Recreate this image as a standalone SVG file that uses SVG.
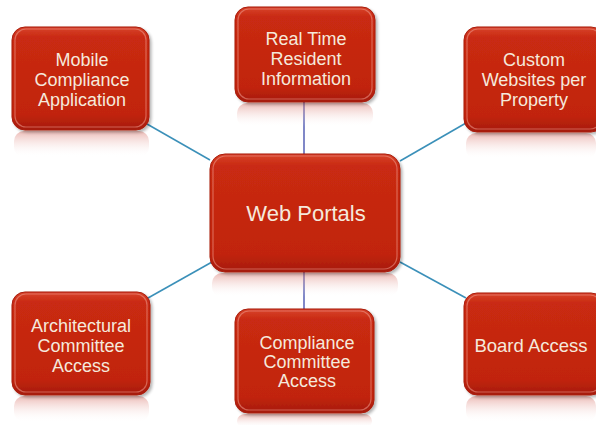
<svg xmlns="http://www.w3.org/2000/svg" width="596" height="425" viewBox="0 0 596 425">
<defs>
<linearGradient id="g" x1="0" y1="0" x2="0" y2="1">
<stop offset="0" stop-color="#d8442c"/>
<stop offset="0.1" stop-color="#c92a12"/>
<stop offset="0.85" stop-color="#c1240e"/>
<stop offset="1" stop-color="#a51b0b"/>
</linearGradient>
<linearGradient id="r" x1="0" y1="0" x2="0" y2="1">
<stop offset="0" stop-color="#d8746a" stop-opacity="0.5"/>
<stop offset="1" stop-color="#ffffff" stop-opacity="0"/>
</linearGradient>
<filter id="sh" x="-10%" y="-10%" width="125%" height="125%">
<feGaussianBlur in="SourceAlpha" stdDeviation="1.5"/>
<feOffset dx="2" dy="2"/>
<feComponentTransfer><feFuncA type="linear" slope="0.3"/></feComponentTransfer>
<feMerge><feMergeNode/><feMergeNode in="SourceGraphic"/></feMerge>
</filter>
</defs>
<style>
.box{fill:url(#g);stroke:#a91d0c;stroke-width:1;filter:url(#sh)}
.hl{fill:none;stroke:#ee9a8e;stroke-opacity:0.55;stroke-width:1.2}
.ref{fill:url(#r)}
.t{font-family:"Liberation Sans",Arial,sans-serif;font-size:18px;fill:#f5e9dc;text-anchor:middle}
.big{font-size:22px}
.c1{stroke:#3b90b9;stroke-width:1.6;fill:none}
.c2{stroke:#4a55b0;stroke-width:1.4;fill:none}
</style>
<rect width="596" height="425" fill="#ffffff"/>
<g id="connectors">
<line class="c1" x1="147" y1="124" x2="210" y2="160"/>
<line class="c1" x1="466" y1="123" x2="400" y2="161"/>
<line class="c1" x1="148" y1="298" x2="212" y2="262"/>
<line class="c1" x1="466" y1="298" x2="400" y2="262"/>
<line class="c2" x1="304" y1="102" x2="304" y2="155"/>
<line class="c2" x1="304" y1="272" x2="304" y2="310"/>
</g>
<g id="n-mobile">
<rect class="ref" x="14" y="131" width="135" height="26" rx="10"/>
<rect class="box" x="12" y="27" width="137" height="103" rx="13"/>
<rect class="hl" x="15" y="29" width="131" height="98" rx="11"/>
<text class="t" x="82" y="66">Mobile</text>
<text class="t" x="82" y="86">Compliance</text>
<text class="t" x="82" y="106">Application</text>
</g>
<g id="n-realtime">
<rect class="ref" x="237" y="103" width="136" height="24" rx="10"/>
<rect class="box" x="235" y="7" width="140" height="95" rx="13"/>
<rect class="hl" x="238" y="9" width="134" height="90" rx="11"/>
<text class="t" x="306" y="45">Real Time</text>
<text class="t" x="306" y="65">Resident</text>
<text class="t" x="306" y="85">Information</text>
</g>
<g id="n-custom">
<rect class="ref" x="466" y="133" width="130" height="26" rx="10"/>
<rect class="box" x="464" y="27" width="140" height="105" rx="13"/>
<rect class="hl" x="467" y="29" width="134" height="100" rx="11"/>
<text class="t" x="534" y="66">Custom</text>
<text class="t" x="534" y="86">Websites per</text>
<text class="t" x="534" y="106">Property</text>
</g>
<g id="n-web">
<rect class="ref" x="212" y="273" width="186" height="24" rx="10"/>
<rect class="box" x="210" y="154" width="190" height="118" rx="15"/>
<rect class="hl" x="213" y="156" width="184" height="113" rx="13"/>
<text class="t big" x="306" y="221">Web Portals</text>
</g>
<g id="n-arch">
<rect class="ref" x="14" y="396" width="135" height="26" rx="10"/>
<rect class="box" x="12" y="292" width="138" height="103" rx="13"/>
<rect class="hl" x="15" y="294" width="132" height="98" rx="11"/>
<text class="t" x="81" y="332">Architectural</text>
<text class="t" x="81" y="352">Committee</text>
<text class="t" x="81" y="372">Access</text>
</g>
<g id="n-compliance">
<rect class="ref" x="237" y="414" width="135" height="14" rx="8"/>
<rect class="box" x="235" y="309" width="139" height="104" rx="13"/>
<rect class="hl" x="238" y="311" width="133" height="99" rx="11"/>
<text class="t" x="307" y="349">Compliance</text>
<text class="t" x="307" y="368">Committee</text>
<text class="t" x="307" y="387">Access</text>
</g>
<g id="n-board">
<rect class="ref" x="466" y="396" width="130" height="26" rx="10"/>
<rect class="box" x="464" y="293" width="140" height="102" rx="13"/>
<rect class="hl" x="467" y="295" width="134" height="97" rx="11"/>
<text class="t" x="531" y="352" style="font-size:18.5px">Board Access</text>
</g>
</svg>
